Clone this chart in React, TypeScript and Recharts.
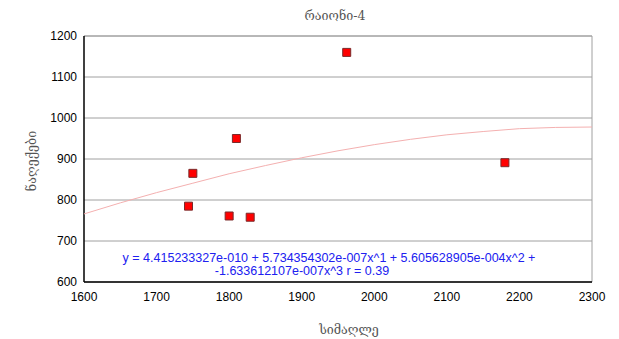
import React from "react";
import { ComposedChart, Scatter, XAxis, YAxis, ZAxis, CartesianGrid, ReferenceLine } from "recharts";

const altitude = [1744, 1750, 1800, 1810, 1829, 1962, 2180];
const precipitation = [785, 865, 761, 950, 758, 1160, 891];

const trendX = [1600, 1650, 1700, 1750, 1800, 1850, 1900, 1950, 2000, 2050, 2100, 2150, 2200, 2250, 2300];
const trendY = [766, 793, 818, 841, 864, 884, 903, 920, 935, 948, 959, 967, 974, 977, 978];

const xTicks = [1600, 1700, 1800, 1900, 2000, 2100, 2200, 2300];
const yTicks = [600, 700, 800, 900, 1000, 1100, 1200];

const title = "რაიონი-4";
const xLabel = "სიმაღლე";
const yLabel = "ნაღექები";
const eqLine1 = "y = 4.415233327e-010 + 5.734354302e-007x^1 + 5.605628905e-004x^2 +";
const eqLine2 = "-1.633612107e-007x^3 r = 0.39";

const points = altitude.map((x, i) => ({ x, y: precipitation[i] }));
const trend = trendX.map((x, i) => ({ x, y: trendY[i] }));

const W = 611;
const H = 331;

const tickStyle = { fontFamily: "'Liberation Sans', Arial, sans-serif", fontSize: 12, fill: "#000" };

export default function App() {
  return (
    <div style={{ position: "relative", width: W, height: H }}>
      <ComposedChart
        width={W}
        height={H}
        margin={{ top: 28, right: 27, bottom: 27, left: 16 }}
      >
        <CartesianGrid vertical={false} stroke="#a0a0a0" />
        <XAxis
          type="number"
          dataKey="x"
          domain={[1600, 2300]}
          ticks={xTicks}
          allowDataOverflow
          height={30}
          axisLine={{ stroke: "#000", strokeWidth: 1.5 }}
          tickLine={false}
          tickSize={6}
          tickMargin={4}
          tick={tickStyle}
          interval={0}
        />
        <YAxis
          type="number"
          dataKey="y"
          domain={[600, 1200]}
          ticks={yTicks}
          allowDataOverflow
          width={60}
          axisLine={{ stroke: "#000", strokeWidth: 1.5 }}
          tickLine={false}
          tickSize={6}
          tickMargin={1}
          tick={tickStyle}
          interval={0}
        />
        <ZAxis range={[49, 49]} />
        <ReferenceLine x={2300} stroke="#a0a0a0" />
        <ReferenceLine y={1200} stroke="#a0a0a0" />
        <Scatter
          data={trend}
          line={{ stroke: "#f4b0b0", strokeWidth: 1 }}
          lineType="joint"
          shape={() => null}
          isAnimationActive={false}
        />
        <Scatter
          data={points}
          shape="square"
          fill="#ff0000"
          stroke="#7a2a2a"
          strokeWidth={1}
          isAnimationActive={false}
        />
      </ComposedChart>
      <svg
        width={W}
        height={H}
        style={{ position: "absolute", left: 0, top: 0, pointerEvents: "none" }}
      >
        <text x={327} y={12} textAnchor="middle" fontFamily="'DejaVu Serif', serif" fontSize={12.5} fill="#555">
          {title}
        </text>
        <text x={341} y={326} textAnchor="middle" fontFamily="'DejaVu Serif', serif" fontSize={12.5} fill="#555">
          {xLabel}
        </text>
        <text
          x={24}
          y={153}
          textAnchor="middle"
          transform="rotate(-90 24 153)"
          dy={4}
          fontFamily="'DejaVu Serif', serif"
          fontSize={12.5}
          fill="#555"
        >
          {yLabel}
        </text>
        <text x={321} y={254} textAnchor="middle" fontFamily="'Liberation Sans', Arial, sans-serif" fontSize={12.5} fill="#2020f0">
          {eqLine1}
        </text>
        <text x={294} y={267} textAnchor="middle" fontFamily="'Liberation Sans', Arial, sans-serif" fontSize={12.5} fill="#2020f0">
          {eqLine2}
        </text>
      </svg>
    </div>
  );
}
